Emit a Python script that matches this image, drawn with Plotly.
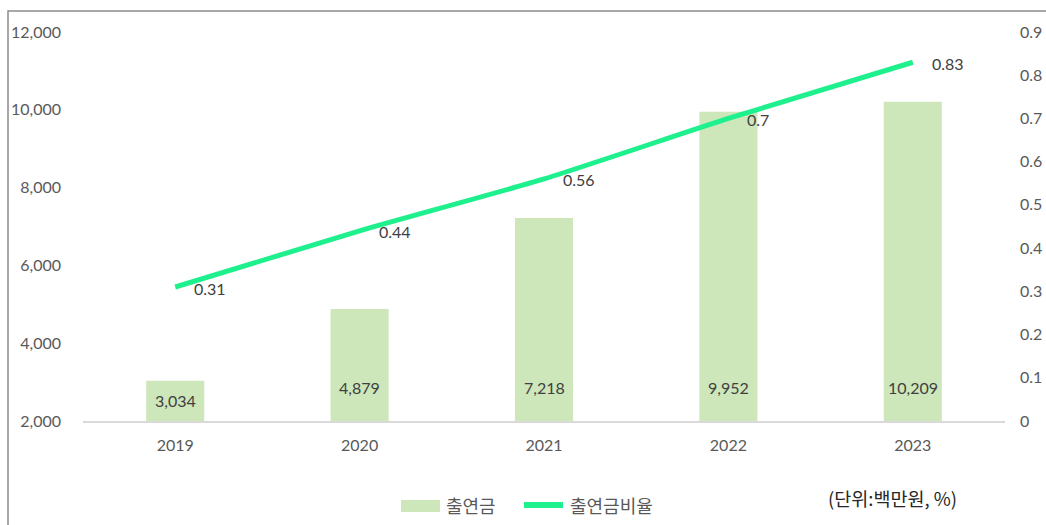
import plotly.graph_objects as go

years = ["2019", "2020", "2021", "2022", "2023"]
amounts = [3034, 4879, 7218, 9952, 10209]
ratios = [0.31, 0.44, 0.56, 0.70, 0.83]
amount_labels = ["3,034", "4,879", "7,218", "9,952", "10,209"]
ratio_labels = ["0.31", "0.44", "0.56", "0.7", "0.83"]
left_ticks = [2000, 4000, 6000, 8000, 10000, 12000]
right_ticks = [0, 0.1, 0.2, 0.3, 0.4, 0.5, 0.6, 0.7, 0.8, 0.9]
series_names = ["출연금", "출연금비율"]

FONT = "Lato, 'Noto Sans CJK KR', sans-serif"
KFONT = "'Noto Sans CJK KR', sans-serif"
BAR_COLOR = "#CDE6BA"
LINE_COLOR = "#1FF08E"
TXT = "#404040"
AX = "#595959"

idx = list(range(len(years)))

fig = go.Figure()
fig.add_trace(go.Bar(
    x=idx, y=[a - 2000 for a in amounts], base=2000, name=series_names[0],
    marker=dict(color=BAR_COLOR, line=dict(width=0)), width=0.315,
    yaxis="y", hoverinfo="skip", showlegend=False,
))
fig.add_trace(go.Scatter(
    x=idx, y=ratios, name=series_names[1], mode="lines",
    line=dict(color=LINE_COLOR, width=5, shape="spline", smoothing=0.5),
    yaxis="y2", hoverinfo="skip", showlegend=False,
))

annotations = []
for i, a, lab in zip(idx, amounts, amount_labels):
    ypos = min(2870, (2000 + a) / 2)
    annotations.append(dict(x=i, y=ypos, xref="x", yref="y", text=lab,
                            showarrow=False, font=dict(family=FONT, size=16, color=TXT),
                            xanchor="center", yanchor="middle"))
for i, r, lab in zip(idx, ratios, ratio_labels):
    annotations.append(dict(x=i, y=r, xref="x", yref="y2", text=lab,
                            showarrow=False, font=dict(family=FONT, size=16, color=TXT),
                            xanchor="left", yanchor="middle", xshift=17, yshift=-1))

W, H = 1046, 525
L, R, T, B = 83, 41, 32, 104
pw, ph = W - L - R, H - T - B
def px(xp):
    return (xp - L) / pw
def py(yp):
    return (H - B - yp) / ph

annotations.append(dict(x=px(892), y=py(498), xref="paper", yref="paper", text="(단위:백만원, %)",
                        showarrow=False, font=dict(family=KFONT, size=18.5, color="#262626"),
                        xanchor="center", yanchor="middle"))
# manual legend
annotations.append(dict(x=px(444), y=py(505), xref="paper", yref="paper", text=series_names[0],
                        showarrow=False, font=dict(family=KFONT, size=18, color=AX),
                        xanchor="left", yanchor="middle"))
annotations.append(dict(x=px(568), y=py(505), xref="paper", yref="paper", text=series_names[1],
                        showarrow=False, font=dict(family=KFONT, size=18, color=AX),
                        xanchor="left", yanchor="middle"))

shapes = [
    dict(type="rect", xref="paper", yref="paper", x0=px(8), x1=px(1060),
         y0=py(540), y1=py(11), line=dict(color="#8C8C8C", width=1.5),
         fillcolor="rgba(0,0,0,0)", layer="below"),
    dict(type="rect", xref="paper", yref="paper", x0=px(401), x1=px(440),
         y0=py(512), y1=py(500), line=dict(width=0), fillcolor=BAR_COLOR),
    dict(type="line", xref="paper", yref="paper", x0=px(524), x1=px(563),
         y0=py(505), y1=py(505), line=dict(color=LINE_COLOR, width=6)),
]

fig.update_layout(
    width=W, height=H,
    margin=dict(l=L, r=R, t=T, b=B, pad=0, autoexpand=False),
    paper_bgcolor="white", plot_bgcolor="white",
    showlegend=False,
    xaxis=dict(range=[-0.5, 4.5], tickvals=idx, ticktext=years, showgrid=False, showline=True,
               linecolor="#D9D9D9", linewidth=2, automargin=False,
               ticks="", tickfont=dict(family=FONT, size=16, color=AX), ticklabelstandoff=9,
               zeroline=False),
    yaxis=dict(range=[2000, 12000], tickvals=left_ticks, tickformat=",d", showgrid=False,
               showline=False, zeroline=False, ticks="", automargin=False,
               tickfont=dict(family=FONT, size=16, color=AX), ticklabelstandoff=21),
    yaxis2=dict(range=[0, 0.9], tickvals=right_ticks, overlaying="y", side="right",
                showgrid=False, showline=False, zeroline=False, ticks="", automargin=False,
                tickfont=dict(family=FONT, size=16, color=AX), ticklabelstandoff=14),
    annotations=annotations,
    shapes=shapes,
)

fig.write_html("out.html", config={"displayModeBar": False},
               post_script="document.body.style.margin='0px';document.body.style.overflow='hidden';")
